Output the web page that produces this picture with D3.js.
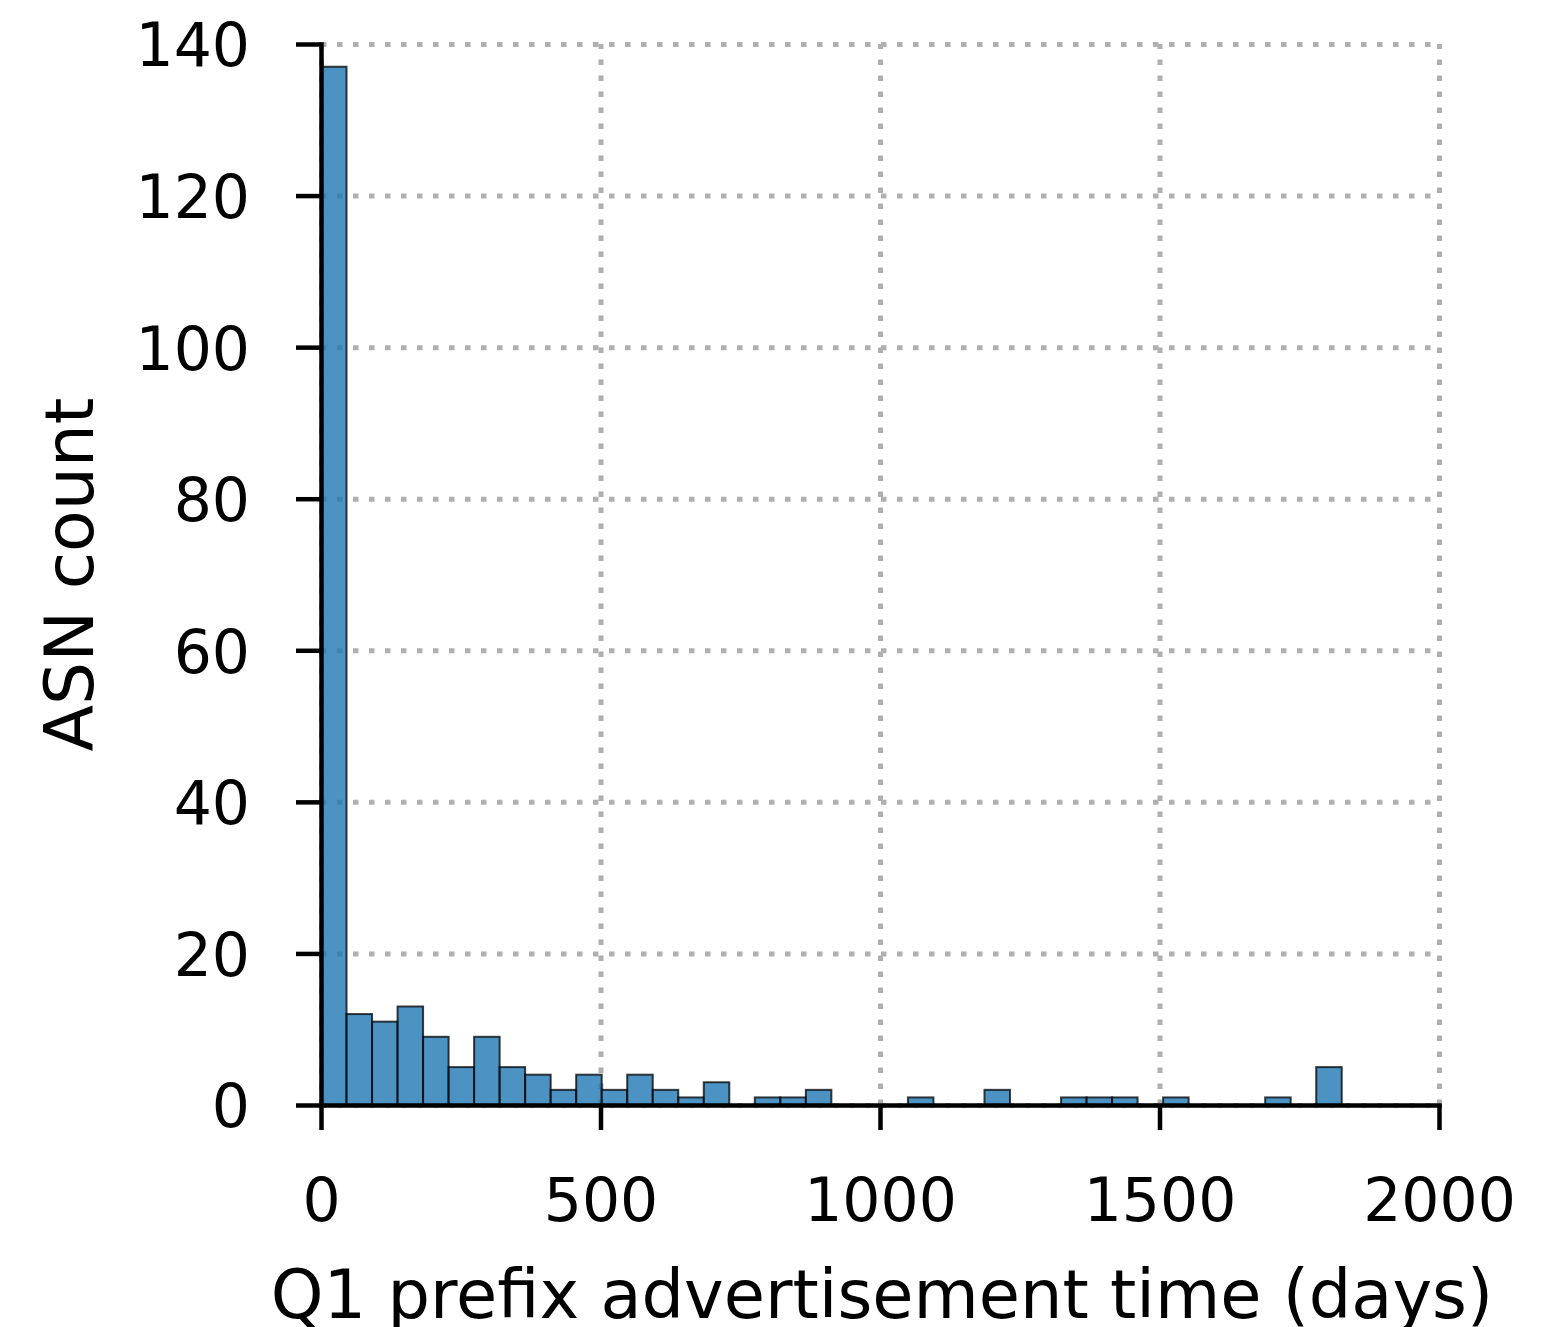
<!DOCTYPE html>
<html>
<head>
<meta charset="utf-8">
<script src="https://cdn.jsdelivr.net/npm/d3@7"></script>
<style>
    body { margin: 0; background: #fff; }
    svg text { font-family: 'DejaVu Sans', sans-serif; fill: #000; }
</style>
</head>
<body>
<div id="chart"></div>
<script>
// histogram of Q1 prefix advertisement time, 40 equal bins from 0 to binMax days
var counts = [137, 12, 11, 13, 9, 5, 9, 5, 4, 2, 4, 2, 4, 2, 1, 3, 0, 1, 1, 2,
              0, 0, 0, 1, 0, 0, 2, 0, 0, 1, 1, 1, 0, 1, 0, 0, 0, 1, 0, 5];
var binMin = 0,
    binMax = 1826;
var xTicks = [0, 500, 1000, 1500, 2000];
var yTicks = [0, 20, 40, 60, 80, 100, 120, 140];
var xLabel = 'Q1 prefix advertisement time (days)',
    yLabel = 'ASN count';

var width = 1562,
    height = 1327,
    margin = {top: 44, right: 123, bottom: 222, left: 321},
    innerW = width - margin.left - margin.right,
    innerH = height - margin.top - margin.bottom,
    binW = (binMax - binMin) / counts.length;

var bins = counts.map(function (c, i) {
    return {x0: binMin + i * binW, x1: binMin + (i + 1) * binW, count: c};
});

var x = d3.scaleLinear().domain([0, 2000]).range([0, innerW]),
    y = d3.scaleLinear().domain([0, 140]).range([innerH, 0]);

var svg = d3.select('#chart').append('svg')
    .attr('width', width)
    .attr('height', height);

var g = svg.append('g')
    .attr('transform', `translate(${margin.left},${margin.top})`);

// dotted grid
var gridX = g.append('g')
    .attr('transform', `translate(0,${innerH})`)
    .call(d3.axisBottom(x).tickValues(xTicks).tickSize(-innerH).tickFormat(''));
var gridY = g.append('g')
    .call(d3.axisLeft(y).tickValues(yTicks).tickSize(-innerW).tickFormat(''));
[gridX, gridY].forEach(function (gr) {
    gr.select('.domain').remove();
    gr.selectAll('line')
        .attr('stroke', '#b0b0b0')
        .attr('stroke-width', 5)
        .attr('stroke-dasharray', '5.5,10.5');
});

// bars
g.selectAll('rect.bar')
    .data(bins.filter(function (d) { return d.count > 0; }))
    .enter().append('rect')
    .attr('class', 'bar')
    .attr('x', function (d) { return x(d.x0); })
    .attr('y', function (d) { return y(d.count); })
    .attr('width', function (d) { return x(d.x1) - x(d.x0); })
    .attr('height', function (d) { return y(0) - y(d.count); })
    .attr('fill', '#1f77b4')
    .attr('fill-opacity', 0.8)
    .attr('stroke', 'rgba(0,0,0,0.75)')
    .attr('stroke-width', 2);

// axes
var xAxis = g.append('g')
    .attr('transform', `translate(0,${innerH})`)
    .call(d3.axisBottom(x).tickValues(xTicks).tickFormat(d3.format('d'))
        .tickSize(25).tickPadding(0).tickSizeOuter(0));
var yAxis = g.append('g')
    .call(d3.axisLeft(y).tickValues(yTicks).tickFormat(d3.format('d'))
        .tickSize(25).tickPadding(0).tickSizeOuter(0));

[xAxis, yAxis].forEach(function (ax) {
    ax.attr('font-family', null).attr('font-size', null);
    ax.select('.domain').attr('stroke', '#000').attr('stroke-width', 4.5).attr('stroke-linecap', 'square');
    ax.selectAll('.tick line').attr('stroke', '#000').attr('stroke-width', 4.5);
    ax.selectAll('.tick text').style('font-size', '60px');
});

xAxis.selectAll('.tick text')
    .attr('y', 116)
    .attr('dy', null);
yAxis.selectAll('.tick text')
    .attr('x', -71)
    .attr('dy', '0.365em');

svg.append('text')
    .attr('x', margin.left + innerW / 2 + 2)
    .attr('y', 1318)
    .attr('text-anchor', 'middle')
    .style('font-size', '67px')
    .text(xLabel);

svg.append('text')
    .attr('transform', `translate(93,${margin.top + innerH / 2}) rotate(-90)`)
    .attr('text-anchor', 'middle')
    .style('font-size', '68px')
    .text(yLabel);
</script>
</body>
</html>
